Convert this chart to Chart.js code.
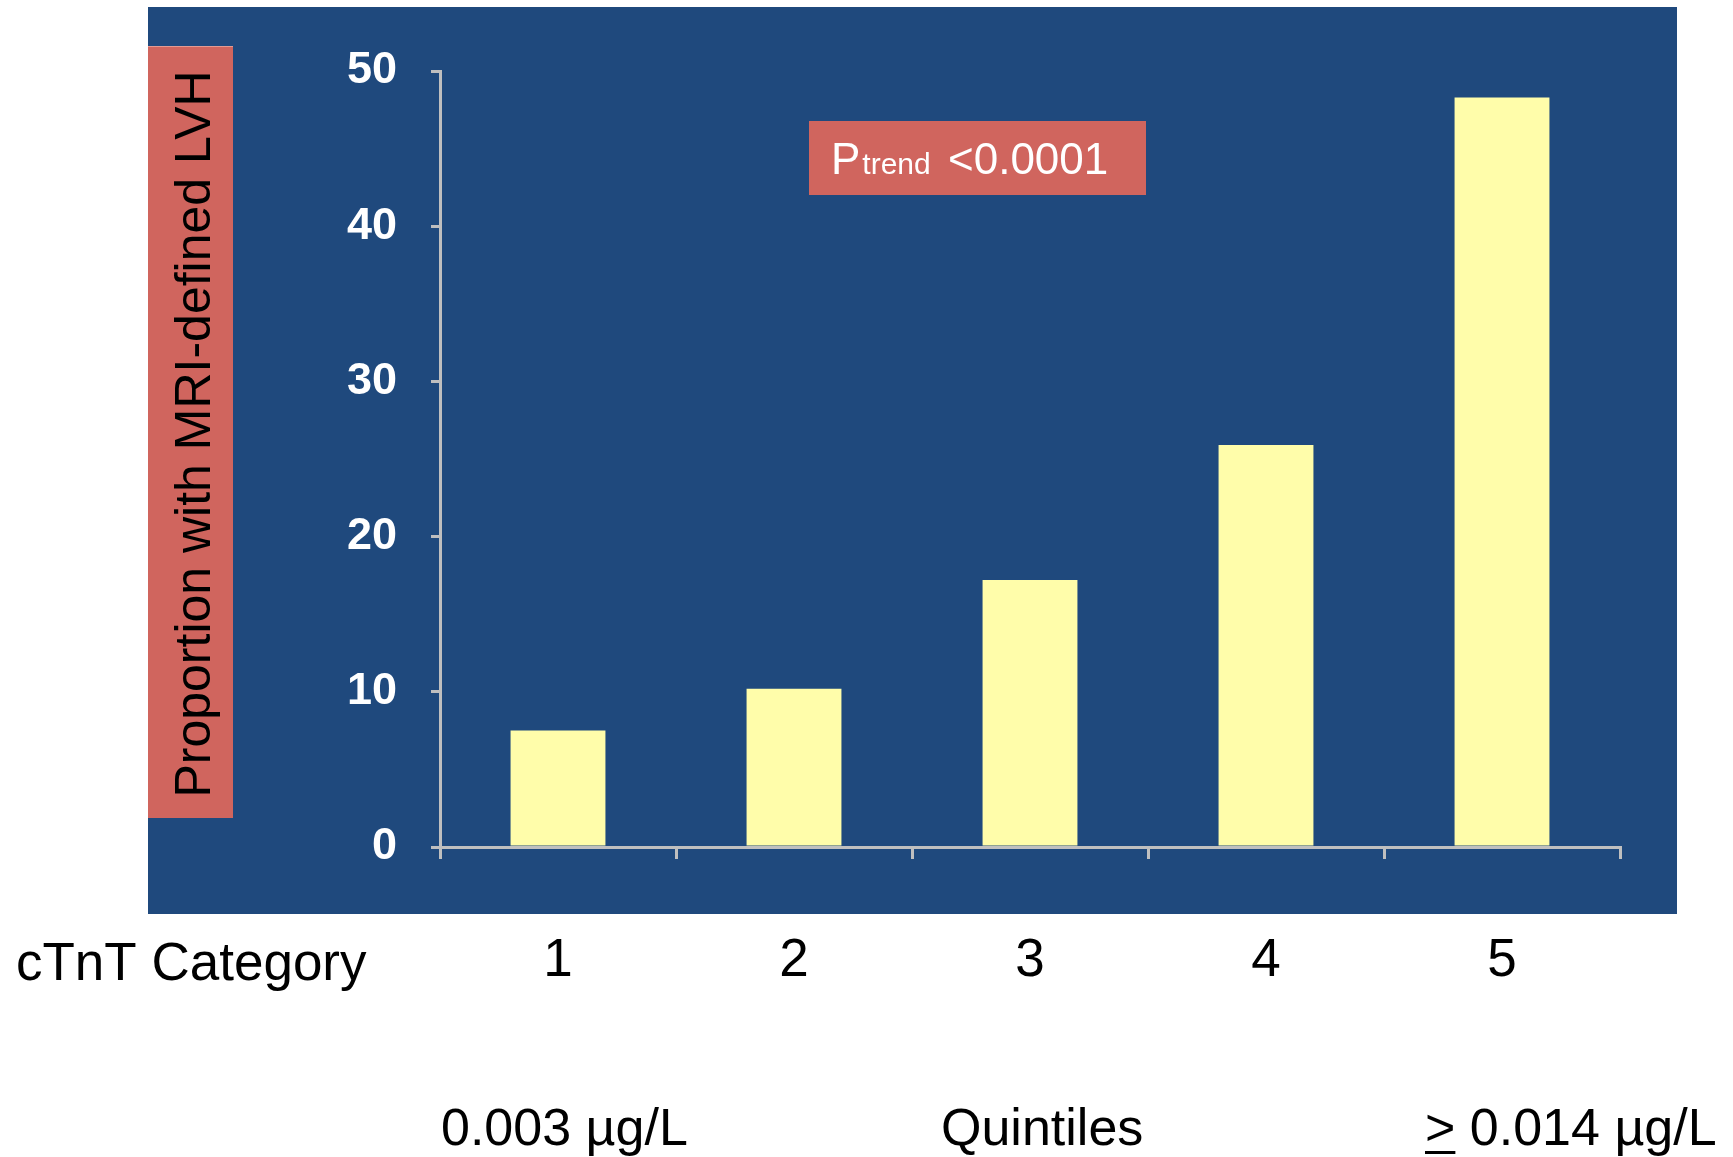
<!DOCTYPE html>
<html>
<head>
<meta charset="utf-8">
<script src="https://cdn.jsdelivr.net/npm/chart.js@4"></script>
<style>
  html, body { margin: 0; padding: 0; background: #fff; }
  #wrap { width: 1733px; height: 1157px; position: relative; }
</style>
</head>
<body>
<div id="wrap"><canvas id="lvh-chart"></canvas></div>
<script>
// ── cTnT quintile vs MRI-defined LVH ─────────────────────────────────────
const categories  = ['1', '2', '3', '4', '5'];
const lvhPercent  = [7.5, 10.2, 17.2, 25.9, 48.3];
const yTickValues = [0, 10, 20, 30, 40, 50];

const yTitle      = 'Proportion with MRI-defined LVH';
const xTitle      = 'cTnT Category';
const lowLabel    = '0.003 µg/L';
const midLabel    = 'Quintiles';
const highLabel   = '0.014 µg/L';

const BLUE   = '#1F497D';
const RED    = '#D0655E';
const YELLOW = '#FFFDAA';
const AXIS   = '#BFBFBF';
const FONT   = "'Liberation Sans', Arial, sans-serif";

const slideDecor = {
  id: 'slideDecor',
  beforeDraw(chart) {
    const c = chart.ctx;
    c.save();
    c.fillStyle = '#fff';
    c.fillRect(0, 0, chart.width, chart.height);
    // blue panel behind plot
    c.fillStyle = BLUE;
    c.fillRect(148, 7, 1529, 907);
    // red y-title box
    c.fillStyle = RED;
    c.fillRect(148, 46, 85, 772);
    c.fillStyle = '#E39A93';
    c.fillRect(148, 46, 85, 1);
    c.restore();
  },
  afterDraw(chart) {
    const c = chart.ctx;
    c.save();
    // rotated y title
    c.fillStyle = '#000';
    c.font = `50px ${FONT}`;
    c.textAlign = 'center';
    c.textBaseline = 'alphabetic';
    c.translate(210, 434);
    c.rotate(-Math.PI / 2);
    c.fillText(yTitle, 0, 0);
    c.restore();

    // P trend box
    c.save();
    c.fillStyle = RED;
    c.fillRect(809, 121, 337, 74);
    c.fillStyle = '#fff';
    c.textBaseline = 'alphabetic';
    c.textAlign = 'left';
    c.font = `44px ${FONT}`;
    c.fillText('P', 831, 174);
    const x = 831 + c.measureText('P').width + 2;
    c.font = `30px ${FONT}`;
    c.fillText('trend', x, 174);
    c.font = `44px ${FONT}`;
    c.fillText('<0.0001', 948, 174);
    c.restore();

    // texts under the panel
    c.save();
    c.fillStyle = '#000';
    c.textBaseline = 'alphabetic';
    c.textAlign = 'left';
    c.font = `53px ${FONT}`;
    c.fillText(xTitle, 16, 980);
    c.font = `52px ${FONT}`;
    c.fillText(lowLabel, 441, 1145);
    c.fillText(midLabel, 941, 1145);
    c.fillText('>', 1425, 1145);
    const gw = c.measureText('>').width;
    c.fillRect(1425, 1151, gw, 3);
    c.fillText(' ' + highLabel, 1425 + gw, 1145);
    c.restore();
  }
};

new Chart(document.getElementById('lvh-chart').getContext('2d'), {
  type: 'bar',
  data: {
    labels: categories,
    datasets: [{
      data: lvhPercent,
      backgroundColor: YELLOW,
      borderWidth: 0,
      barPercentage: 0.402,
      categoryPercentage: 1,
    }],
  },
  options: {
    responsive: true, maintainAspectRatio: false, animation: false,
    layout: { padding: { top: 71, right: 113, left: 0, bottom: 0 } },
    plugins: { legend: { display: false }, tooltip: { enabled: false } },
    scales: {
      x: {
        offset: true,
        grid: { offset: true, drawOnChartArea: false, drawTicks: true, tickLength: 12, color: AXIS, lineWidth: 3 },
        border: { display: true, color: AXIS, width: 3 },
        ticks: { color: '#000', font: { family: FONT, size: 53 }, padding: 71, maxRotation: 0 },
        afterFit: s => { s.height = 310; },
      },
      y: {
        min: 0, max: 50,
        afterBuildTicks: s => { s.ticks = yTickValues.map(v => ({ value: v })); },
        grid: { drawOnChartArea: false, drawTicks: true, tickLength: 9, color: AXIS, lineWidth: 3 },
        border: { display: true, color: AXIS, width: 3 },
        ticks: { color: '#fff', font: { family: FONT, size: 45, weight: 'bold' }, padding: 34 },
        afterFit: s => { s.width = 440; },
      },
    },
  },
  plugins: [slideDecor],
});
</script>
</body>
</html>
